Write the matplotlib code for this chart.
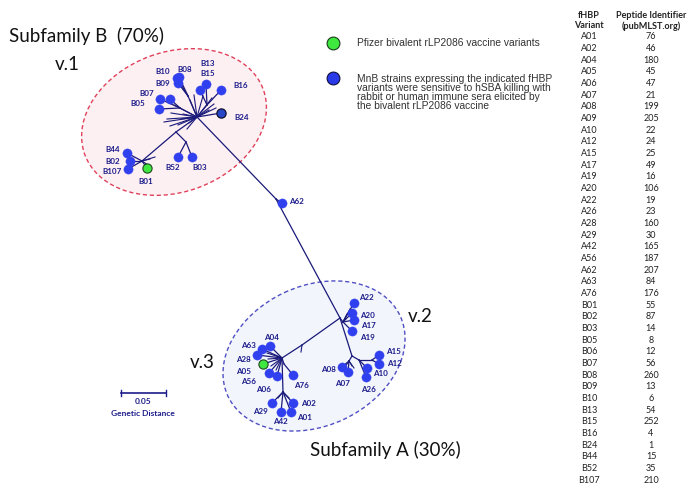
import matplotlib
matplotlib.use("Agg")
import matplotlib.pyplot as plt
from matplotlib.patches import Ellipse

# ---------------- data ----------------
# tree tips (layout coordinates of the unrooted tree drawing)
leaf_names = ["B10", "B08", "B09", "B13", "B15", "B16", "B24", "B07", "B06", "B05",
              "B44", "B02", "B107", "B01", "B52", "B03", "A62",
              "A22", "A20", "A17", "A19", "A15", "A12", "A10", "A26", "A08", "A07",
              "A04", "A63", "A28", "A05", "A56", "A06", "A76", "A29", "A42", "A01", "A02"]
leaf_x = [177, 179, 178, 206, 200, 221, 221, 160, 170, 159,
          127, 130, 128, 147, 178, 192, 282,
          354, 352, 354, 352, 379, 379, 367, 366, 342, 348,
          270, 262, 257, 263, 269, 277, 293, 272, 281, 291, 293]
leaf_y = [78, 77, 83, 84, 90, 90, 113, 99, 99, 109,
          153, 161, 169, 168, 157, 157, 203,
          303, 313, 320, 331, 355, 364, 368, 377, 367, 372,
          346, 349, 355, 364, 373, 376, 375, 403, 412, 412, 403]
leaf_parent = ["nB2", "nB2", "nB2", "nB1", "nB1", "nB1", "hubB", "nB3", "nB3", "nB3",
               "nB44", "nB44", "nB44", "nB44", "nB52", "nB52", "n62",
               "nAup", "nAup", "nAup", "nAup", "nv2RR", "nv2RR", "nv2R", "nv2R", "nv2L", "nv2L",
               "nv3", "nv3", "nv3", "nv3", "nv3", "nv3", "nv3b", "nv3d", "nv3d", "nv3d", "nv3d"]
vaccine_variants = ["B01", "A05"]
dark_variant = ["B24"]

# internal nodes
node_names = ["hubB", "nB1", "nB2", "nB3", "nBL", "nB52", "nB44", "n62",
              "hubA", "nAup", "nv2", "nv2L", "nv2R", "nv2RR", "nv3", "nv3b", "nv3d", "ntick"]
node_x = [197, 207, 188, 180, 176, 186, 142, 276, 340, 343, 352, 349, 359, 372, 282, 284, 283, 302]
node_y = [117, 105, 96, 108, 132, 142, 161, 199, 318, 322, 356, 361, 360, 360, 358, 364, 392, 345]
node_parent = [None, "hubB", "hubB", "hubB", "hubB", "nBL", "nBL", "hubB",
               "n62", "hubA", "hubA", "nv2", "nv2", "nv2R", "ntick", "nv3", "nv3", "hubA"]

# short unlabelled branches (tip x, tip y, parent)
twig_x = [171, 167, 170, 178, 187, 190, 194, 214, 212, 203, 183, 189, 150, 148, 155,
          267, 268, 271, 276, 301, 350, 347, 345, 354, 352, 278, 289,
          174, 181, 209, 216, 164]
twig_y = [113, 119, 126, 125, 129, 100, 95, 104, 98, 96, 114, 123, 159, 165, 157,
          353, 359, 366, 370, 352, 309, 314, 367, 368, 366, 398, 398,
          105, 119, 110, 108, 122]
twig_parent = (["hubB"] * 12 + ["nB44"] * 3 + ["nv3"] * 4 + ["ntick"] + ["nAup"] * 2
               + ["nv2L"] * 3 + ["nv3d"] * 2 + ["hubB"] * 5)

# table
variants = ["A01", "A02", "A04", "A05", "A06", "A07", "A08", "A09", "A10", "A12", "A15", "A17",
            "A19", "A20", "A22", "A26", "A28", "A29", "A42", "A56", "A62", "A63", "A76",
            "B01", "B02", "B03", "B05", "B06", "B07", "B08", "B09", "B10", "B13", "B15", "B16",
            "B24", "B44", "B52", "B107"]
peptide_ids = [76, 46, 180, 45, 47, 21, 199, 205, 22, 24, 25, 49, 16, 106, 19, 23, 160, 30,
               165, 187, 207, 84, 176, 55, 87, 14, 8, 12, 56, 260, 13, 6, 54, 252, 4, 1, 15, 35, 210]

# ---------------- layout / style ----------------
label_pos = {
    "B10": (163, 71), "B08": (185, 70), "B09": (163, 83), "B13": (208, 63), "B15": (208, 74),
    "B16": (241, 86), "B24": (242, 117), "B07": (147, 94), "B05": (138, 103),
    "B44": (113, 149), "B02": (113, 161), "B107": (112, 172), "B01": (146, 181),
    "B52": (173, 168), "B03": (200, 168), "A62": (296, 202),
    "A22": (366, 297), "A20": (367, 316), "A17": (368, 326), "A19": (367, 337),
    "A15": (393, 352), "A12": (394, 363), "A10": (380, 373), "A26": (368, 389),
    "A08": (328, 369), "A07": (342, 383), "A04": (271, 337), "A63": (248, 346),
    "A28": (243, 359), "A05": (244, 371), "A56": (249, 381), "A06": (264, 389),
    "A76": (301, 385), "A02": (308, 403), "A29": (260, 412), "A42": (280, 422), "A01": (304, 417),
}

NAVY = "#1c1c8a"
LINE = "#1a1a7a"
BLUE = "#3140ee"
GREEN = "#3ee83e"

fig = plt.figure(figsize=(7, 5), dpi=100)
ax = fig.add_axes([0, 0, 1, 1])
ax.set_xlim(0, 700)
ax.set_ylim(500, 0)
ax.axis("off")

# ellipses
ax.add_patch(Ellipse((174, 122), 190, 140, angle=-20, facecolor="#fdf0f3",
                     edgecolor="#e0405a", linestyle=(0, (3, 2)), linewidth=1.0, zorder=1))
ax.add_patch(Ellipse((314, 356), 190, 140, angle=-25, facecolor="#f3f5fc",
                     edgecolor="#4f4fc4", linestyle=(0, (3, 2)), linewidth=1.0, zorder=1))

# tree edges
pos = {n: (x, y) for n, x, y in zip(node_names, node_x, node_y)}
for n, p in zip(node_names, node_parent):
    if p is not None:
        ax.plot([pos[p][0], pos[n][0]], [pos[p][1], pos[n][1]], color=LINE, lw=0.9, zorder=2)
for x, y, p in zip(leaf_x, leaf_y, leaf_parent):
    ax.plot([pos[p][0], x], [pos[p][1], y], color=LINE, lw=0.9, zorder=2)
for x, y, p in zip(twig_x, twig_y, twig_parent):
    ax.plot([pos[p][0], x], [pos[p][1], y], color=LINE, lw=0.8, zorder=2)

# tips
for name, x, y in zip(leaf_names, leaf_x, leaf_y):
    if name in vaccine_variants:
        fc, ec, lw = GREEN, "#1f4a1f", 0.8
    elif name in dark_variant:
        fc, ec, lw = "#2846c8", "#101030", 0.9
    else:
        fc, ec, lw = BLUE, BLUE, 0.3
    ax.scatter([x], [y], s=44, c=fc, edgecolors=ec, linewidths=lw, zorder=4)
    if name in label_pos:
        lx, ly = label_pos[name]
        ax.text(lx, ly, name, fontsize=5.8, fontweight="bold", color=NAVY,
                family="Lato", ha="center", va="center", zorder=5)

# big labels
big = dict(family="Lato", color="#111111", fontsize=13.5)
ax.text(9, 36, "Subfamily B  (70%)", ha="left", va="center", **big)
ax.text(67, 65, "v.1", ha="center", va="center", **big)
ax.text(420, 317, "v.2", ha="center", va="center", **big)
ax.text(202, 362, "v.3", ha="center", va="center", **big)
ax.text(385, 450, "Subfamily A (30%)", ha="center", va="center", **big)

# scale bar
ax.plot([121, 166], [393, 393], color=NAVY, lw=1.2)
ax.plot([121, 121], [390, 396], color=NAVY, lw=1.0)
ax.plot([166, 166], [390, 396], color=NAVY, lw=1.0)
ax.text(143, 402, "0.05", fontsize=6, fontweight="bold", color=NAVY, family="Lato",
        ha="center", va="center")
ax.text(143, 413, "Genetic Distance", fontsize=6, fontweight="bold", color=NAVY,
        family="Lato", ha="center", va="center")

# legend
ax.scatter([333], [43], s=85, c=GREEN, edgecolors="#1a3a1a", linewidths=0.8, zorder=4)
ax.scatter([333], [78], s=85, c="#2a3ae8", edgecolors="#101040", linewidths=0.8, zorder=4)
leg = dict(family="Liberation Sans", fontsize=7.4, color="#333333", ha="left", va="center")
ax.text(357, 43.5, "Pfizer bivalent rLP2086 vaccine variants", **leg)
blue_lines = ["MnB strains expressing the indicated fHBP",
              "variants were sensitive to hSBA killing with",
              "rabbit or human immune sera elicited by",
              "the bivalent rLP2086 vaccine"]
for i, t in enumerate(blue_lines):
    ax.text(357, 78.5 + i * 9.1, t, **leg)

# table
tab = dict(family="Lato", fontsize=6.5, color="#222222", ha="center", va="center")
ax.text(589, 15, "fHBP", fontweight="bold", **tab)
ax.text(589, 26, "Variant", fontweight="bold", **tab)
ax.text(651, 15, "Peptide Identifier", fontweight="bold", **tab)
ax.text(651, 26, "(pubMLST.org)", fontweight="bold", **tab)
for i, (v, p) in enumerate(zip(variants, peptide_ids)):
    y = 36.7 + i * 11.67
    ax.text(589, y, v, **tab)
    ax.text(651, y, str(p), **tab)

fig.savefig("out.png", dpi=100)
